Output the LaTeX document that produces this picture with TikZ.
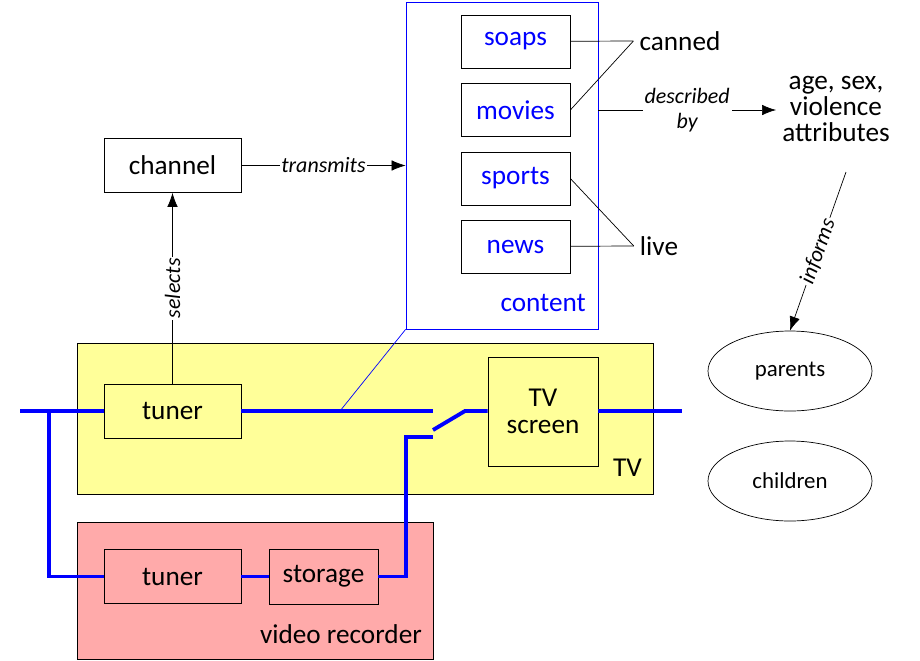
\documentclass[tikz,border=0pt]{standalone}
\usepackage{fontspec}
\setmainfont{Carlito}
\usetikzlibrary{positioning,arrows.meta,calc,shapes.geometric}
\definecolor{tvyellow}{RGB}{255,255,153}
\definecolor{vrpink}{RGB}{255,170,170}
\definecolor{wireblue}{RGB}{0,0,255}
\tikzset{
    x=0.02cm,
    y=-0.02cm,
    box/.style = {
        draw,
        shape=rectangle,
        inner sep=0pt,
        font=\fontsize{15.5}{17}\selectfont
    },
    genre/.style = {
        box,
        text=wireblue,
        minimum width=109*0.02cm,
        minimum height=53*0.02cm
    },
    unit/.style = {
        box,
        minimum width=137*0.02cm,
        minimum height=54*0.02cm
    },
    person/.style = {
        draw,
        shape=ellipse,
        minimum width=164*0.02cm,
        minimum height=80*0.02cm,
        font=\fontsize{13}{15}\selectfont
    },
    tag/.style = {
        font=\fontsize{12.5}{14}\selectfont\itshape,
        fill=white,
        inner sep=1pt
    },
    word/.style = {
        font=\fontsize{15.5}{17}\selectfont
    },
    wire/.style = {
        draw=wireblue,
        line width=2.2pt
    },
    >={Latex[length=8pt,width=6pt]},
}
\begin{document}
\begin{tikzpicture}
    \useasboundingbox (0,0) rectangle (920,660);
    % enclosures
    \node[box, fill=tvyellow, minimum width=576*0.02cm, minimum height=151*0.02cm] (tv) at (365,418.5) {};
    \node[box, fill=vrpink, minimum width=356*0.02cm, minimum height=137*0.02cm] (vcr) at (255,590.5) {};
    \node[box, draw=wireblue, minimum width=192*0.02cm, minimum height=327*0.02cm] (content) at (502,165.5) {};
    \node[word, anchor=south east] (tvlabel) at (648,483) {TV};
    \node[word, anchor=south east] (vcrlabel) at (428,650) {video recorder};
    \node[word, text=wireblue, anchor=south east] (contlabel) at (592,318) {content};

    % boxes
    \node[unit] (channel) at (172.5,165.5) {channel};
    \node[genre] (soaps) at (515.5,41.5) {soaps};
    \node[genre] (movies) at (515.5,110) {movies};
    \node[genre] (sports) at (515.5,178.5) {sports};
    \node[genre] (news) at (515.5,246.5) {news};
    \node[word] (canned) at (680,41) {canned};
    \node[word] (live) at (659,246) {live};
    \node[word, align=center] (attrs) at (836,109) {age, sex,\\[-2pt] violence\\[-2pt] attributes};
    \node[person] (parents) at (790,371) {parents};
    \node[person] (children) at (790,481) {children};
    \node[unit, fill=tvyellow] (tuner) at (172.5,411) {tuner};
    \node[box, fill=tvyellow, minimum width=110*0.02cm, minimum height=109*0.02cm, align=center] (screen) at (543,411.5) {TV\\[-2pt] screen};
    \node[unit, fill=vrpink] (vtuner) at (172.5,576.5) {tuner};
    \node[box, fill=vrpink, minimum width=109*0.02cm, minimum height=55*0.02cm] (storage) at (323.5,576.5) {storage};

    % wires
    \coordinate (inL) at (20,411);
    \coordinate (split) at (49,411);
    \coordinate (swA) at (433,411);
    \coordinate (swB) at (433,430);
    \coordinate (swC) at (465,411);
    \coordinate (swD) at (433,437);
    \coordinate (outR) at (682,411);
    \path[wire] (inL) -- (tuner.west);
    \path[wire] (split) |- (vtuner);
    \path[wire] (tuner.east) -- (swA);
    \path[wire] (swB) -- (swC) -- (swC -| screen.west);
    \path[wire] (vtuner) -- (storage);
    \path[wire] (storage.east) -- (406,576.5) |- (swD);
    \path[wire] (outR -| screen.east) -- (outR);
    \path[draw, draw=wireblue] (content.south west) -- (340,411);

    % relations
    \path[draw, ->] (tuner) -- node[tag, rotate=90] {selects} (channel);
    \path[draw, ->] (channel) -- node[tag] {transmits} (content.west |- channel);
    \path[draw] (soaps) -- (canned.west);
    \path[draw] (movies.east) -- (canned.west);
    \path[draw] (sports.east) -- (live.west);
    \path[draw] (news) -- (live.west);
    \path[draw, ->] (content.east |- movies) -- node[tag, align=center] {described\\ by} (attrs.west |- movies);
    \path[draw, ->] (846,172) -- node[tag, sloped] {informs} (parents.north);
\end{tikzpicture}
\end{document}
